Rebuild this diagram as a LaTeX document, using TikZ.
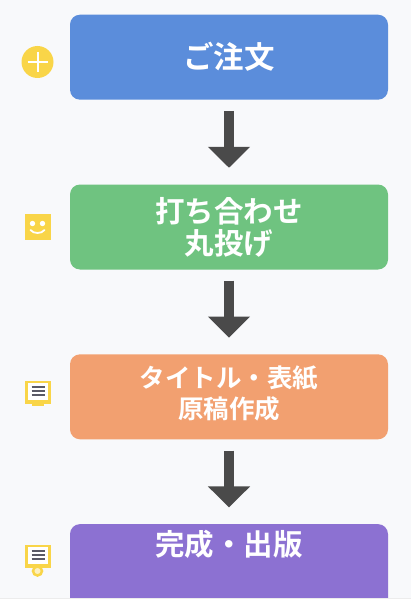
\documentclass[tikz,border=0pt]{standalone}
\usepackage{fontspec}
\setmainfont{Noto Sans CJK JP}[BoldFont={* Bold}]
\usetikzlibrary{positioning,arrows.meta}
\definecolor{pagebg}{HTML}{F8F9FB}
\definecolor{orderblue}{HTML}{5B8DDB}
\definecolor{meetgreen}{HTML}{6FC380}
\definecolor{draftorange}{HTML}{F2A070}
\definecolor{donepurple}{HTML}{8C71D2}
\definecolor{arrowgray}{HTML}{4A4A4A}
\definecolor{iconyellow}{HTML}{F9D548}
\definecolor{memogray}{HTML}{5A5A66}
\begin{document}
\begin{tikzpicture}[
    x=1pt, y=-1pt,
    stepbox/.style={rounded corners=10pt, minimum width=318pt, minimum height=85pt,
                    inner sep=0pt, text=white, align=center},
    order/.style = {stepbox, fill=orderblue, font=\bfseries\fontsize{30.5pt}{32pt}\selectfont},
    meet/.style  = {stepbox, fill=meetgreen, font=\bfseries\fontsize{29.5pt}{32pt}\selectfont},
    draft/.style = {stepbox, fill=draftorange, font=\bfseries\fontsize{25.5pt}{31pt}\selectfont},
    done/.style  = {stepbox, fill=donepurple, font=\bfseries\fontsize{29.5pt}{32pt}\selectfont},
    flow/.style  = {draw=arrowgray, line width=10.5pt, shorten <=11pt, shorten >=16.5pt,
                    -{Triangle[length=21pt, width=41pt]}},
    iconsq/.style   = {fill=iconyellow, minimum size=26pt, inner sep=0pt},
    memosheet/.style = {fill=white, minimum width=20pt, minimum height=17pt, inner sep=0pt},
    memoline/.style = {draw=memogray, line width=1.1pt},
  ]
  \useasboundingbox (0,0) rectangle (411,599);
  \clip (0,0) rectangle (411,599);
  \fill[pagebg] (0,0) rectangle (411,599);

  % steps
  \node[order] (order) at (229,57.2) {ご注文\\[-29pt]~};
  \node[meet, below=84.4pt of order] (meet) {打ち合わせ\\丸投げ\\[-30pt]~};
  \node[draft, below=84.4pt of meet] (draft) {タイトル・表紙\\原稿作成\\[-21pt]~};
  \node[done, below=84.4pt of draft] (done) {完成・出版\\[15pt]~};
  \fill[gray!15] (0,597.5) rectangle (411,599);

  \draw[flow] (order) -- (meet);
  \draw[flow] (meet) -- (draft);
  \draw[flow] (draft) -- (done);

  % plus icon
  \node[circle, fill=iconyellow, minimum size=32pt, inner sep=0pt] (plus) at (37.5,62) {};
  \draw[white, line width=2pt] (plus.center) ++(-10,0) -- ++(20,0);
  \draw[white, line width=2pt] (plus.center) ++(0,-10) -- ++(0,20);

  % smile icon
  \node[iconsq] (smile) at (37.5,227) {};
  \fill[white] (smile.center) ++(-5,-3.5) circle (2.7pt);
  \fill[white] (smile.center) ++(5,-3.5) circle (2.7pt);
  \draw[white, line width=1.8pt, line cap=round] (smile.center) ++(-7,3)
    .. controls +(3,4) and +(-3,4) .. +(14,0);

  % memo icons
  \fill[iconyellow] (32,403) rectangle (44,406);
  \node[iconsq, minimum height=23pt] (memoa) at (38,392) {};
  \node[memosheet] (sheeta) at (38,391.5) {};
  \foreach \ly in {-4.5,-0.5,3.5}
    \draw[memoline] (sheeta.center) ++(-6.5,\ly) -- ++(13,0);

  \node[circle, draw=iconyellow, fill=iconyellow!35, line width=2.5pt, minimum size=9pt, inner sep=0pt] (memoknob) at (37.5,571) {};
  \node[iconsq, minimum height=23pt] (memob) at (38,556) {};
  \node[memosheet] (sheetb) at (38,555.5) {};
  \foreach \ly in {-4.5,-0.5,3.5}
    \draw[memoline] (sheetb.center) ++(-6.5,\ly) -- ++(13,0);
\end{tikzpicture}
\end{document}
